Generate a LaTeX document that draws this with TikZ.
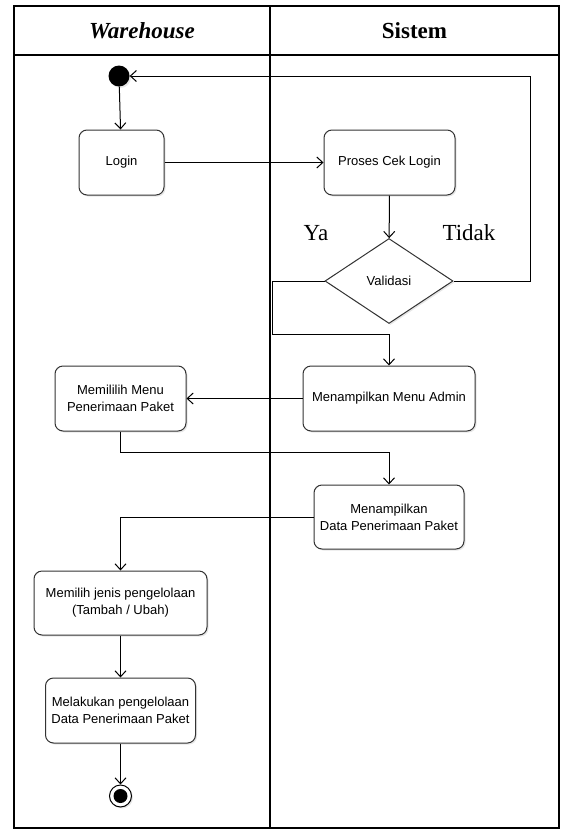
\documentclass[tikz,border=0pt]{standalone}
\usepackage{fontspec}
\setmainfont{Liberation Serif}
\setsansfont{Liberation Sans}
\usetikzlibrary{arrows.meta,shapes.geometric,shadows}
\begin{document}
\begin{tikzpicture}[x=1pt,y=-1pt,
  act/.style={draw=black!80, line width=1pt, rounded corners=8pt, fill=white,
    minimum height=65pt, align=center, inner sep=2pt,
    font=\sffamily\fontsize{13}{17}\selectfont,
    drop shadow={shadow xshift=1.5pt, shadow yshift=-1.5pt, opacity=0.2}},
  flow/.style={line width=1pt, -{Straight Barb[length=6pt,width=11pt]}},
  lane/.style={line width=2pt},
  hdr/.style={font=\bfseries\fontsize{23}{27}\selectfont},
  lbl/.style={font=\fontsize{23}{27}\selectfont}]
\useasboundingbox (0,0) rectangle (561,830);
% swimlane frame
\draw[lane] (14,6) rectangle (559,828);
\draw[lane] (14,55) -- (559,55);
\draw[lane] (270,6) -- (270,828);
\node[hdr, font=\bfseries\itshape\fontsize{23}{27}\selectfont] (h1) at (142,31) {Warehouse};
\node[hdr] (h2) at (414.5,31) {Sistem};
% nodes
\node[circle, fill=black, minimum size=21pt, inner sep=0pt,
  drop shadow={shadow xshift=1.5pt, shadow yshift=-1.5pt, opacity=0.2}] (start) at (119,76) {};
\node[act, minimum width=85pt] (login) at (121.5,162.5) {Login};
\node[act, minimum width=131pt] (proses) at (389.5,162.5) {Proses Cek Login};
\node[diamond, draw=black!80, line width=1pt, fill=white, aspect=1.5, minimum width=128pt, minimum height=85pt, inner sep=0pt,
  font=\sffamily\fontsize{13}{17}\selectfont,
  drop shadow={shadow xshift=1.5pt, shadow yshift=-1.5pt, opacity=0.2}] (dec) at (389,281) {Validasi};
\node[act, minimum width=172pt] (admin) at (389,398.5) {Menampilkan Menu Admin};
\node[act, minimum width=131pt] (memililih) at (120.5,398.5) {Memililih Menu\\Penerimaan Paket};
\node[act, minimum width=150pt, minimum height=64pt] (data) at (389,517) {Menampilkan\\Data Penerimaan Paket};
\node[act, minimum width=173pt, minimum height=64pt] (jenis) at (120.5,603) {Memilih jenis pengelolaan\\(Tambah / Ubah)};
\node[act, minimum width=150pt] (lakukan) at (120.5,710.5) {Melakukan pengelolaan\\Data Penerimaan Paket};
\node[circle, draw=black, line width=1pt, fill=white, minimum size=22pt, inner sep=0pt,
  drop shadow={shadow xshift=1.5pt, shadow yshift=-1.5pt, opacity=0.2}] (end) at (120.5,796) {};
\node[circle, fill=black, minimum size=14pt, inner sep=0pt] (endin) at (end.center) {};
% labels
\node[lbl] (ya) at (316,233) {Ya};
\node[lbl] (tidak) at (469,233) {Tidak};
% helper coordinates
\coordinate (td) at (530,76);
\coordinate (ya2) at (272,334);
\coordinate (m1) at (389,452);
% connectors
\draw[flow] (start) -- (login);
\draw[flow] (login) -- (proses);
\draw[flow] (proses) -- (dec);
\draw[flow] (dec.east) -| (td) -- (start);
\draw[flow] (dec.west) -| (ya2) -| (admin.north);
\draw[flow] (admin) -- (memililih);
\draw[flow] (memililih.south) |- (m1) -- (data.north);
\draw[flow] (data.west) -| (jenis.north);
\draw[flow] (jenis) -- (lakukan);
\draw[flow] (lakukan) -- (end);
\end{tikzpicture}
\end{document}
